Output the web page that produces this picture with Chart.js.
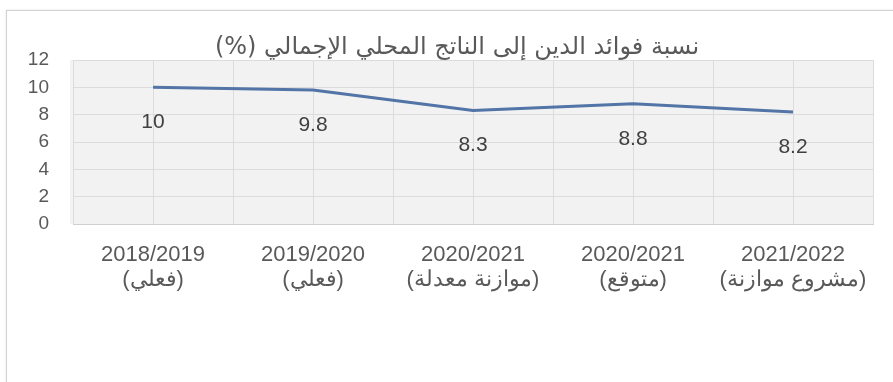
<!DOCTYPE html>
<html lang="ar">
<head>
<meta charset="utf-8">
<title>نسبة فوائد الدين إلى الناتج المحلي الإجمالي</title>
<script src="https://cdn.jsdelivr.net/npm/chart.js@4"></script>
<style>
  html, body { margin: 0; padding: 0; background: #fff; }
  #wrap { position: relative; width: 893px; height: 382px; overflow: hidden; }
  #frame {
    position: absolute; left: 6px; top: 10px; width: 920px; height: 400px;
    border: 1px solid #d4d4d4; box-shadow: 0 0 2px rgba(0,0,0,0.12);
  }
  #chart { position: absolute; left: 0; top: 0; }
</style>
</head>
<body>
<div id="wrap">
  <div id="frame"></div>
  <canvas id="chart" width="893" height="382"></canvas>
</div>
<script>
  // ====== DATOS ======
  const chartTitle = 'نسبة فوائد الدين إلى الناتج المحلي الإجمالي (%)';
  const years = ['2018/2019', '2019/2020', '2020/2021', '2020/2021', '2021/2022'];
  const status = ['(فعلي)', '(فعلي)', '(موازنة معدلة)', '(متوقع)', '(مشروع موازنة)'];
  const ratio = [10, 9.8, 8.3, 8.8, 8.2];
  const yTicks = [0, 2, 4, 6, 8, 10, 12];

  const labels = years.map((y, i) => [y, status[i]]);
  const GRID = '#dcdcdc';
  const TEXT = '#595959';

  // fondo gris del área de trazado
  const plotBg = {
    id: 'plotBg',
    beforeDraw(chart) {
      const { ctx, chartArea: a } = chart;
      ctx.save();
      ctx.fillStyle = '#f2f2f2';
      ctx.fillRect(a.left - 3, a.top, a.right - a.left + 3, a.bottom - a.top);
      ctx.restore();
    }
  };

  // título encima del área
  const titleText = {
    id: 'titleText',
    afterDraw(chart) {
      const { ctx } = chart;
      ctx.save();
      ctx.direction = 'rtl';
      ctx.font = '24px "DejaVu Sans", sans-serif';
      ctx.fillStyle = TEXT;
      ctx.textAlign = 'center';
      ctx.textBaseline = 'middle';
      ctx.fillText(chartTitle, 457, 48);
      ctx.restore();
    }
  };

  // etiquetas de valor debajo de cada punto
  const valueLabels = {
    id: 'valueLabels',
    afterDatasetsDraw(chart) {
      const { ctx } = chart;
      const meta = chart.getDatasetMeta(0);
      ctx.save();
      ctx.font = '21px "Liberation Sans", Arial, sans-serif';
      ctx.fillStyle = '#404040';
      ctx.textAlign = 'center';
      ctx.textBaseline = 'middle';
      meta.data.forEach((pt, i) => {
        ctx.fillText(String(ratio[i]), pt.x, pt.y + 35);
      });
      ctx.restore();
    }
  };

  new Chart(document.getElementById('chart'), {
    type: 'line',
    data: {
      labels,
      datasets: [{
        data: ratio,
        borderColor: '#5274a6',
        borderWidth: 3,
        pointRadius: 0,
        tension: 0,
        fill: false
      }]
    },
    options: {
      responsive: false,
      animation: false,
      devicePixelRatio: 1,
      layout: { padding: { top: 60, right: 20, left: 0, bottom: 0 } },
      plugins: {
        legend: { display: false },
        title: { display: false },
        tooltip: { enabled: false }
      },
      scales: {
        x: {
          type: 'category',
          offset: true,
          grid: { offset: true, color: GRID, drawTicks: false },
          border: { color: '#d0d0d0', width: 1 },
          ticks: {
            color: TEXT,
            padding: 18,
            maxRotation: 0,
            autoSkip: false,
            font: { family: '"Liberation Sans", Arial, sans-serif', size: 22, lineHeight: 1.15 }
          },
          afterFit(scale) { scale.height = 158; }
        },
        xMid: {
          type: 'category',
          labels,
          position: 'top',
          offset: true,
          grid: { offset: false, color: GRID, drawTicks: false },
          border: { display: false },
          ticks: { display: false },
          afterFit(scale) { scale.height = 0; }
        },
        y: {
          min: 0,
          max: 12,
          afterBuildTicks(scale) { scale.ticks = yTicks.map(v => ({ value: v })); },
          grid: { color: GRID, drawTicks: false },
          border: { display: false },
          ticks: {
            color: TEXT,
            padding: 24,
            font: { family: '"Liberation Sans", Arial, sans-serif', size: 19 }
          },
          afterFit(scale) { scale.width = 73; }
        }
      }
    },
    plugins: [plotBg, valueLabels, titleText]
  });
</script>
</body>
</html>
